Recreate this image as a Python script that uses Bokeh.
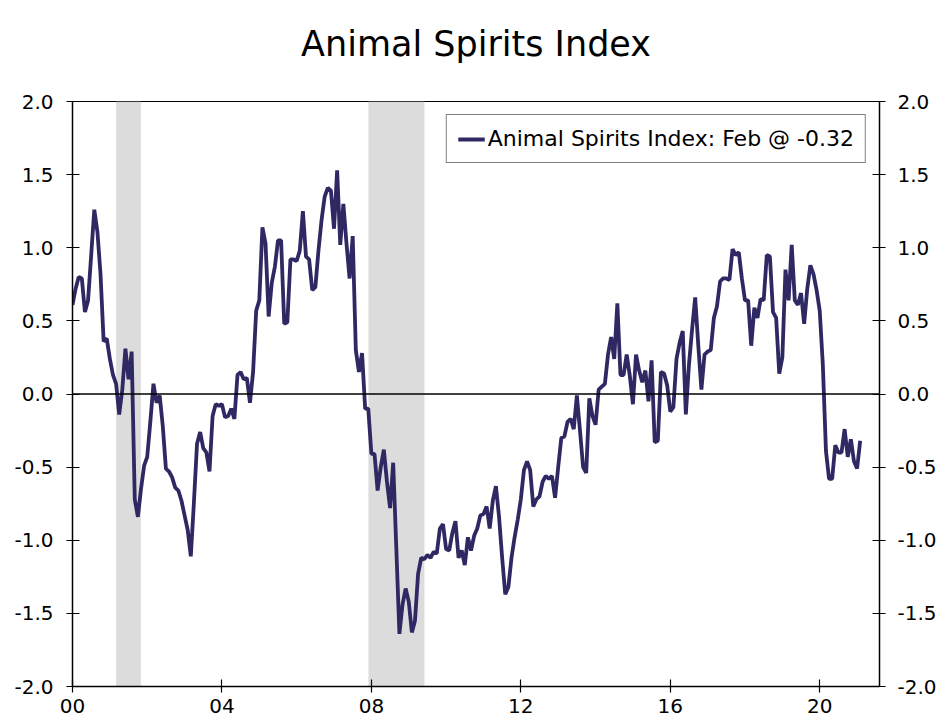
from bokeh.plotting import figure
from bokeh.models import (LinearAxis, FixedTicker, Span, BoxAnnotation, Legend, Title,
                          LegendItem, NumeralTickFormatter, Range1d, ColumnDataSource)
from bokeh.embed import file_html
from bokeh.resources import INLINE

title_text = "Animal Spirits Index"
series_label = "Animal Spirits Index: Feb @ -0.32"
start_year = 2000
tick_years = [2000, 2004, 2008, 2012, 2016, 2020]
tick_labels = ["00", "04", "08", "12", "16", "20"]
y_ticks = [-2.0, -1.5, -1.0, -0.5, 0.0, 0.5, 1.0, 1.5, 2.0]
recession_start = [2001.17, 2007.92]
recession_end = [2001.83, 2009.42]

# monthly values, Jan 2000 .. Feb 2021
values = [
    0.61, 0.72, 0.80, 0.79, 0.56, 0.64, 0.95, 1.26, 1.11, 0.82, 0.36, 0.38,
    0.24, 0.13, 0.07, -0.14, 0.03, 0.31, 0.10, 0.29, -0.72, -0.84, -0.65, -0.49,
    -0.43, -0.19, 0.07, -0.06, -0.01, -0.22, -0.51, -0.53, -0.57, -0.64, -0.66, -0.73,
    -0.83, -0.93, -1.11, -0.74, -0.34, -0.26, -0.37, -0.40, -0.53, -0.15, -0.07, -0.08,
    -0.07, -0.16, -0.15, -0.10, -0.17, 0.13, 0.15, 0.10, 0.11, -0.06, 0.15, 0.57,
    0.64, 1.14, 1.03, 0.53, 0.76, 0.87, 1.05, 1.05, 0.48, 0.49, 0.92, 0.92,
    0.91, 0.98, 1.25, 0.94, 0.92, 0.71, 0.73, 0.98, 1.19, 1.35, 1.41, 1.39,
    1.13, 1.53, 1.02, 1.30, 1.03, 0.79, 1.08, 0.30, 0.15, 0.28, -0.10, -0.10,
    -0.41, -0.41, -0.66, -0.50, -0.38, -0.60, -0.78, -0.47, -1.05, -1.64, -1.44, -1.33,
    -1.42, -1.63, -1.55, -1.23, -1.12, -1.13, -1.10, -1.12, -1.08, -1.09, -0.92, -0.89,
    -1.06, -1.07, -0.95, -0.87, -1.12, -1.07, -1.17, -0.98, -1.07, -0.97, -0.92, -0.83,
    -0.82, -0.77, -0.92, -0.73, -0.63, -0.84, -1.12, -1.37, -1.32, -1.12, -0.98, -0.86,
    -0.72, -0.52, -0.46, -0.52, -0.77, -0.72, -0.70, -0.60, -0.56, -0.58, -0.56, -0.71,
    -0.50, -0.30, -0.29, -0.19, -0.17, -0.24, -0.01, -0.25, -0.50, -0.54, -0.03, -0.15,
    -0.21, 0.03, 0.05, 0.07, 0.27, 0.39, 0.24, 0.62, 0.13, 0.13, 0.27, 0.125,
    -0.07, 0.27, 0.16, 0.08, 0.16, -0.05, 0.23, -0.33, -0.32, 0.15, 0.14, 0.06,
    -0.12, -0.09, 0.24, 0.35, 0.43, -0.14, 0.20, 0.44, 0.66, 0.33, 0.03, 0.27,
    0.29, 0.30, 0.52, 0.60, 0.77, 0.79, 0.79, 0.78, 0.99, 0.95, 0.97, 0.79,
    0.64, 0.64, 0.33, 0.59, 0.52, 0.65, 0.64, 0.95, 0.94, 0.56, 0.52, 0.14,
    0.25, 0.85, 0.64, 1.02, 0.64, 0.61, 0.69, 0.48, 0.72, 0.88, 0.82, 0.71,
    0.57, 0.20, -0.39, -0.58, -0.58, -0.35, -0.40, -0.40, -0.24, -0.43, -0.31, -0.46,
    -0.51, -0.32,
]

dates = [start_year + i / 12.0 for i in range(len(values))]
src = ColumnDataSource(dict(x=dates, y=values))

FONT = "DejaVu Sans"
LINE_COLOR = "#2f2963"

p = figure(width=939, height=719, x_range=Range1d(2000, 2021.6), y_range=Range1d(-2, 2),
           output_backend="svg", toolbar_location=None, title=None,
           min_border_left=72, min_border_right=57, min_border_top=101, min_border_bottom=33)

# spacer between frame and title, then the title itself
spacer = Title(text=" ", text_font_size="10px", standoff=23)
main_title = Title(text=title_text, align="center", text_font=FONT, text_font_size="35px",
                   text_font_style="normal", text_color="black", standoff=4)
p.add_layout(spacer, "above")
p.add_layout(main_title, "above")

p.grid.visible = False
p.outline_line_color = "black"
p.outline_line_width = 1
p.background_fill_color = "white"
p.border_fill_color = "white"

for s, e in zip(recession_start, recession_end):
    p.add_layout(BoxAnnotation(left=s, right=e, fill_color="#dcdcdc", fill_alpha=1.0,
                               line_alpha=0, level="underlay"))

p.add_layout(Span(location=0, dimension="width", line_color="black", line_width=1.4))

r = p.line("x", "y", source=src, line_color=LINE_COLOR, line_width=3.8)


def style_axis(ax):
    ax.axis_line_color = "black"
    ax.axis_line_width = 1.5
    ax.major_tick_line_color = "black"
    ax.major_tick_line_width = 1.2
    ax.major_tick_in = 7
    ax.major_tick_out = 6
    ax.minor_tick_line_color = None
    ax.major_label_text_font = FONT
    ax.major_label_text_font_size = "20px"
    ax.major_label_text_color = "black"


p.xaxis.ticker = FixedTicker(ticks=tick_years)
p.xaxis.major_label_overrides = {y: l for y, l in zip(tick_years, tick_labels)}
p.xaxis.major_label_standoff = 6
style_axis(p.xaxis[0])

p.yaxis.ticker = FixedTicker(ticks=y_ticks)
p.yaxis.formatter = NumeralTickFormatter(format="0.0")
p.yaxis.major_label_standoff = 13
style_axis(p.yaxis[0])

ry = LinearAxis(ticker=FixedTicker(ticks=y_ticks), formatter=NumeralTickFormatter(format="0.0"))
ry.major_label_standoff = 12
style_axis(ry)
p.add_layout(ry, "right")

legend = Legend(items=[LegendItem(label=series_label, renderers=[r])], location="top_right")
legend.margin = 13
legend.padding = 11
legend.glyph_width = 27
legend.label_standoff = 3
legend.label_text_font = FONT
legend.label_text_font_size = "22px"
legend.label_text_color = "black"
legend.border_line_color = "black"
legend.border_line_width = 1
legend.background_fill_alpha = 1.0
p.add_layout(legend)

open("out.html", "w").write(file_html(p, INLINE))
